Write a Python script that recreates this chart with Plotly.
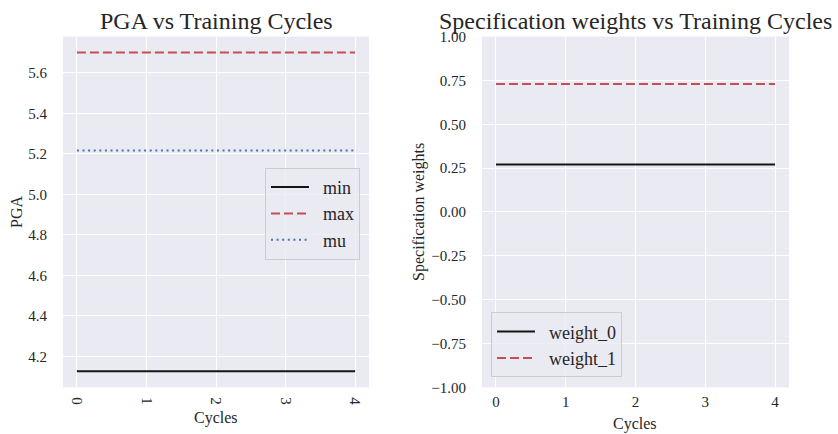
import plotly.graph_objects as go

# ---- data ----
cycles = [0, 1, 2, 3, 4]
pga_min = [4.126, 4.126, 4.126, 4.126, 4.126]
pga_max = [5.700, 5.700, 5.700, 5.700, 5.700]
pga_mu = [5.216, 5.216, 5.216, 5.216, 5.216]
weight_0 = [0.27, 0.27, 0.27, 0.27, 0.27]
weight_1 = [0.73, 0.73, 0.73, 0.73, 0.73]
series_names = ["min", "max", "mu", "weight_0", "weight_1"]

x_ticks = [0, 1, 2, 3, 4]
x_tick_labels = ["0", "1", "2", "3", "4"]
pga_ticks = [4.2, 4.4, 4.6, 4.8, 5.0, 5.2, 5.4, 5.6]
pga_tick_labels = ["4.2", "4.4", "4.6", "4.8", "5.0", "5.2", "5.4", "5.6"]
w_ticks = [-1.0, -0.75, -0.5, -0.25, 0.0, 0.25, 0.5, 0.75, 1.0]
w_tick_labels = ["\u22121.00", "\u22120.75", "\u22120.50", "\u22120.25", "0.00",
                 "0.25", "0.50", "0.75", "1.00"]

# ---- style ----
W, H = 838, 434
FONT = "Liberation Serif, Times New Roman, serif"
TXT = "#262626"
BG = "#EAEAF2"
BLACK = "#151515"
RED = "#C44E52"
BLUE = "#4C72B0"
GAP = "\u2002"  # small gap between legend line and its label

def px_x(p):
    return p / W

def px_y(p):
    # vertical position (pixels from top) in the photographed picture -> paper fraction
    fy = (p - 8.5) / 0.961
    return 1 - fy / H

fig = go.Figure()

fig.add_trace(go.Scatter(x=cycles, y=pga_min, name=GAP + series_names[0], mode="lines",
                         line=dict(color=BLACK, width=2), legend="legend",
                         legendgroup="a", xaxis="x", yaxis="y"))
fig.add_trace(go.Scatter(x=cycles, y=pga_max, name=GAP + series_names[1], mode="lines",
                         line=dict(color=RED, width=2, dash="9px,4px"), legend="legend",
                         legendgroup="b", xaxis="x", yaxis="y"))
fig.add_trace(go.Scatter(x=cycles, y=pga_mu, name=GAP + series_names[2], mode="lines",
                         line=dict(color=BLUE, width=2, dash="2px,3.6px"), legend="legend",
                         legendgroup="c", xaxis="x", yaxis="y"))
fig.add_trace(go.Scatter(x=cycles, y=weight_0, name=GAP + series_names[3], mode="lines",
                         line=dict(color=BLACK, width=2), legend="legend2",
                         legendgroup="d", xaxis="x2", yaxis="y2"))
fig.add_trace(go.Scatter(x=cycles, y=weight_1, name=GAP + series_names[4], mode="lines",
                         line=dict(color=RED, width=2, dash="9px,4px"), legend="legend2",
                         legendgroup="e", xaxis="x2", yaxis="y2"))

top, bot = 37, 387
axis_common = dict(showgrid=True, gridcolor="white", gridwidth=1.3, zeroline=False,
                   showline=False, ticks="", tickfont=dict(family=FONT, size=15, color=TXT))

fig.update_layout(
    width=W, height=H, autosize=False,
    margin=dict(l=0, r=0, t=0, b=0),
    paper_bgcolor="white",
    plot_bgcolor=BG,
    font=dict(family=FONT, color=TXT),
    xaxis=dict(domain=[px_x(63), px_x(369)], range=[-0.2, 4.2], tickvals=x_ticks,
               ticktext=x_tick_labels, tickangle=90, anchor="y", ticklabelstandoff=9,
               **axis_common),
    yaxis=dict(domain=[px_y(bot), px_y(top)], range=[4.047, 5.779], tickvals=pga_ticks,
               ticktext=pga_tick_labels, anchor="x", ticklabelstandoff=15, **axis_common),
    xaxis2=dict(domain=[px_x(482), px_x(789)], range=[-0.2, 4.2], tickvals=x_ticks,
                ticktext=x_tick_labels, tickangle=0, anchor="y2", ticklabelstandoff=4,
                **axis_common),
    yaxis2=dict(domain=[px_y(bot), px_y(top)], range=[-1.0, 1.0], tickvals=w_ticks,
                ticktext=w_tick_labels, anchor="x2", ticklabelstandoff=15, **axis_common),
    legend=dict(x=px_x(360), y=px_y(168), xanchor="right", yanchor="top",
                bgcolor="rgba(234,234,242,0.8)", bordercolor="#CCCCCC", borderwidth=1,
                font=dict(family=FONT, size=18, color=TXT), tracegroupgap=0,
                itemwidth=38),
    legend2=dict(x=px_x(491), y=px_y(377), xanchor="left", yanchor="bottom",
                 bgcolor="rgba(234,234,242,0.8)", bordercolor="#CCCCCC", borderwidth=1,
                 font=dict(family=FONT, size=18, color=TXT), tracegroupgap=0,
                 itemwidth=38),
    showlegend=True,
)

annos = [
    dict(text="PGA vs Training Cycles", x=px_x(216), y=px_y(21), size=24, angle=0),
    dict(text="Specification weights vs Training Cycles", x=px_x(635), y=px_y(21), size=24, angle=0),
    dict(text="PGA", x=px_x(17), y=px_y(212), size=16, angle=-90),
    dict(text="Specification weights", x=px_x(419), y=px_y(212), size=16, angle=-90),
    dict(text="Cycles", x=px_x(216), y=px_y(418), size=16, angle=0),
    dict(text="Cycles", x=px_x(635), y=px_y(424), size=16, angle=0),
]
for a in annos:
    fig.add_annotation(text=a["text"], x=a["x"], y=a["y"], xref="paper", yref="paper",
                       xanchor="center", yanchor="middle", showarrow=False,
                       textangle=a["angle"], font=dict(family=FONT, size=a["size"], color=TXT))

fig.write_html("out.html", config={"responsive": False},
               post_script="document.body.style.margin='0';document.body.style.overflow='hidden';")
